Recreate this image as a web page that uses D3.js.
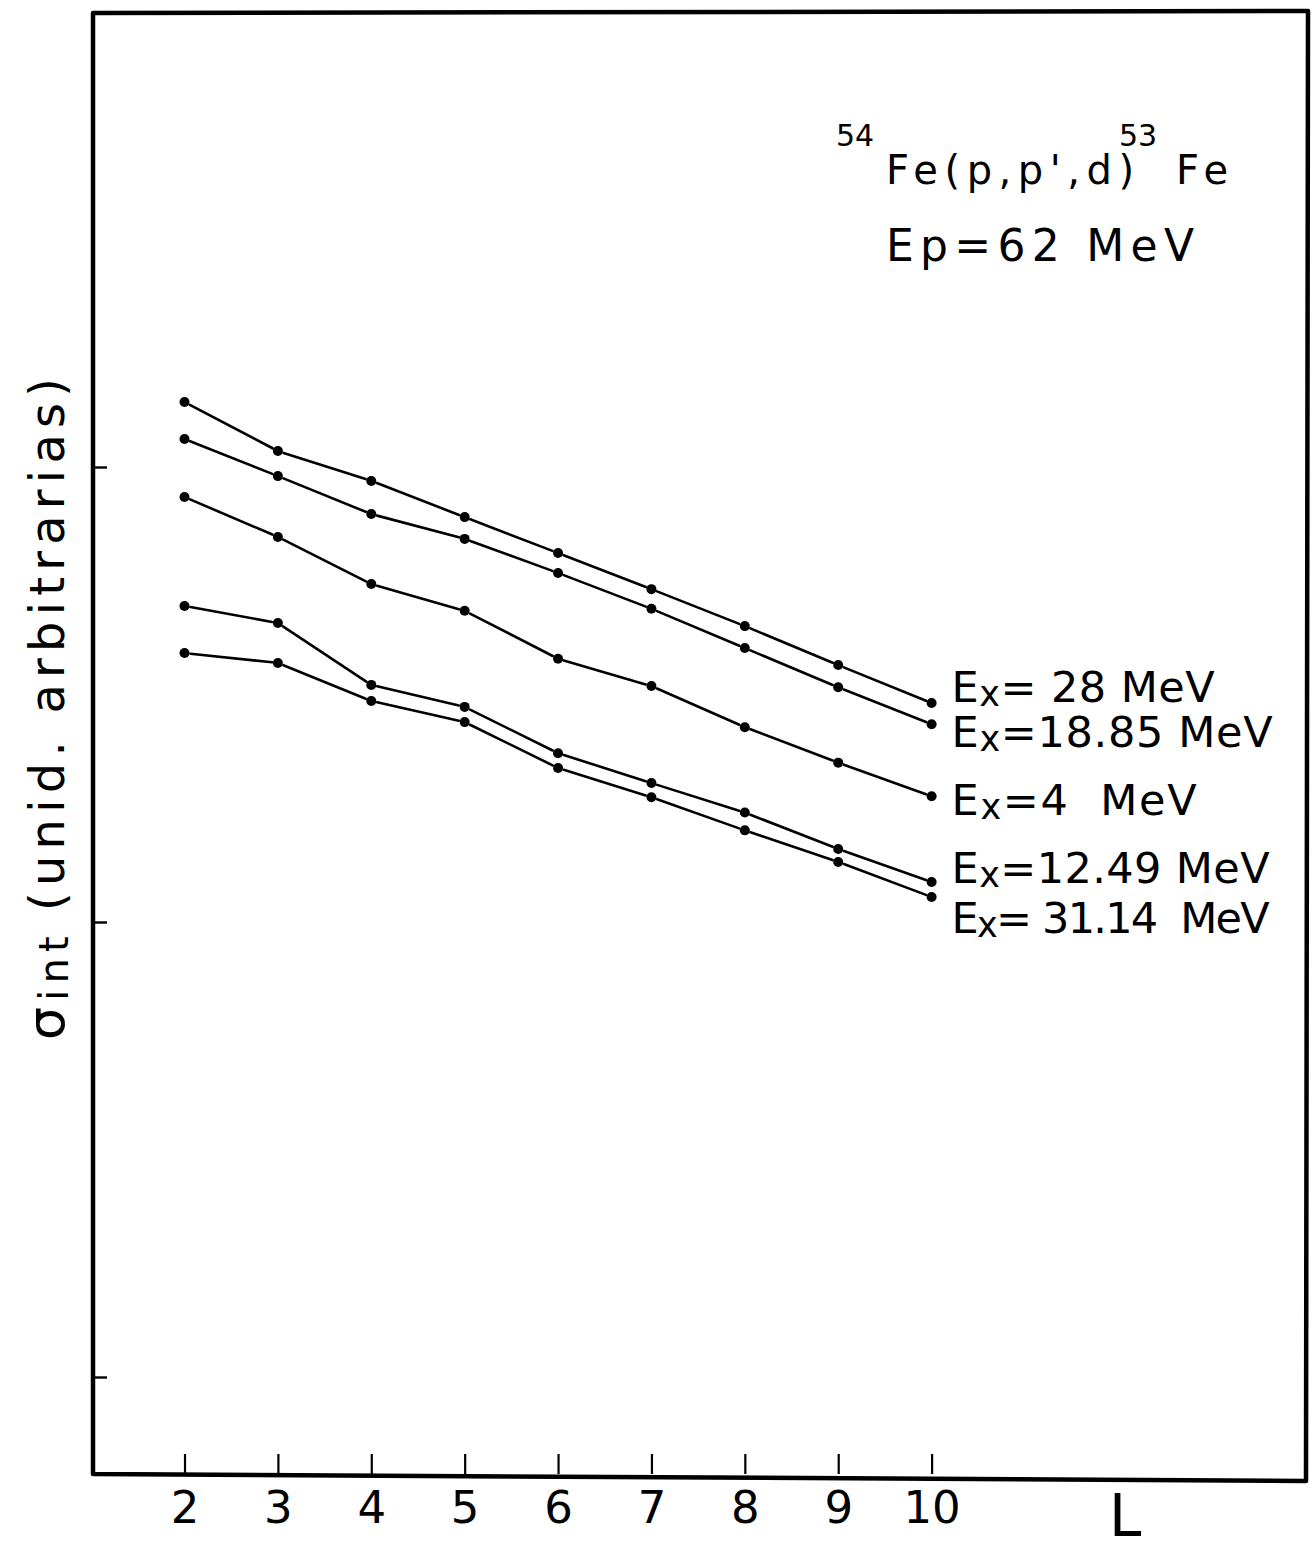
<!DOCTYPE html>
<html>
<head>
<meta charset="utf-8">
<script src="https://cdn.jsdelivr.net/npm/d3@7"></script>
<style>
  html, body { margin: 0; padding: 0; background: #fff; }
  svg { display: block; }
  text { font-family: "DejaVu Sans", sans-serif; fill: #000; white-space: pre; }
</style>
</head>
<body>
<svg id="chart" width="1313" height="1552"></svg>
<script>
// Multipole order L on the horizontal axis
const orders = [2, 3, 4, 5, 6, 7, 8, 9, 10];

// Integrated cross sections (arbitrary units, log axis), one list per excitation energy
const ex28    = [1.389, 1.084, 0.932, 0.776, 0.647, 0.539, 0.447, 0.367, 0.303];
const ex1885  = [1.152, 0.955, 0.788, 0.695, 0.585, 0.488, 0.400, 0.328, 0.272];
const ex4     = [0.859, 0.702, 0.553, 0.483, 0.379, 0.330, 0.268, 0.224, 0.189];
const ex1249  = [0.495, 0.454, 0.332, 0.297, 0.235, 0.202, 0.174, 0.1447, 0.1224];
const ex3114  = [0.390, 0.371, 0.306, 0.275, 0.218, 0.188, 0.159, 0.1355, 0.1135];

const seriesLabels = ["28 MeV", "18.85 MeV", "4  MeV", "12.49 MeV", "31.14  MeV"];
const seriesPrefix = ["= ", "=", "=", "=", "= "];
const seriesValues = [ex28, ex1885, ex4, ex1249, ex3114];

// Log-axis decade marks (unlabelled)
const yTickValues = [0.01, 0.1, 1];
const xTickValues = orders;

const titleReaction = { pre: "54", mid: "Fe(p,p',d)", post: "53", end: "Fe" };
const titleEnergy = "Ep=62 MeV";
const xTitle = "L";

// ---- layout ----
const svg = d3.select("#chart");
const W = 1313, H = 1552;
const mLeft = 93, mRight = 1307, mTop = 12, mBottom = 1474;

svg.append("rect").attr("width", W).attr("height", H).attr("fill", "#fff");

const x = d3.scaleLinear().domain([1.02, 14.02]).range([mLeft, mRight]);
const y = d3.scaleLog()
  .domain([Math.pow(10, -(mBottom - 467) / 455), Math.pow(10, (467 - mTop) / 455)])
  .range([mBottom, mTop]);

// frame
svg.append("path")
  .attr("d", `M${mLeft},${mTop + 1} L${mRight + 1},${mTop - 1} L${mRight - 1},${mBottom + 7} L${mLeft},${mBottom} Z`)
  .attr("fill", "none").attr("stroke", "#000").attr("stroke-width", 4.5)
  .attr("stroke-linejoin", "round");

// y decade ticks
const yAxis = svg.append("g").attr("transform", `translate(${mLeft},0)`)
  .call(d3.axisLeft(y).tickValues(yTickValues).tickSize(-14).tickFormat(""));
yAxis.select(".domain").remove();
yAxis.selectAll(".tick line").attr("stroke", "#000").attr("stroke-width", 2.4);

// x ticks and labels
const xAxis = svg.append("g").attr("transform", `translate(0,${mBottom})`)
  .call(d3.axisBottom(x).tickValues(xTickValues).tickSize(-20).tickPadding(17).tickFormat(d3.format("d")));
xAxis.select(".domain").remove();
xAxis.selectAll(".tick line").attr("stroke", "#000").attr("stroke-width", 2.2);
xAxis.selectAll(".tick text")
  .attr("font-family", "DejaVu Sans, sans-serif")
  .attr("font-size", 45).attr("fill", "#000");

// x title
svg.append("text").attr("x", 1109).attr("y", 1536)
  .attr("font-size", 58).text(xTitle);

// y title (rotated)
const yt = svg.append("text")
  .attr("transform", "translate(64,1040) rotate(-90)")
  .attr("font-size", 48)
  .attr("textLength", 662).attr("lengthAdjust", "spacing");
yt.append("tspan").attr("font-size", 52).text("σ");
yt.append("tspan").attr("font-size", 40).attr("dy", 4).text("int ");
yt.append("tspan").attr("dy", -4).text("(unid. arbitrarias)");

// series: line segments with small gaps at the points, then the dots
const gap = 6;
const plot = svg.append("g");
seriesValues.forEach((vals, si) => {
  const pts = orders.map((o, i) => [x(o), y(vals[i])]);
  const segs = d3.pairs(pts).map(([a, b]) => {
    const dx = b[0] - a[0], dy = b[1] - a[1];
    const len = Math.hypot(dx, dy);
    const ux = dx / len, uy = dy / len;
    return [a[0] + ux * gap, a[1] + uy * gap, b[0] - ux * gap, b[1] - uy * gap];
  });
  plot.append("g").selectAll("line").data(segs).join("line")
    .attr("x1", d => d[0]).attr("y1", d => d[1])
    .attr("x2", d => d[2]).attr("y2", d => d[3])
    .attr("stroke", "#000").attr("stroke-width", 2.6).attr("stroke-linecap", "round");
  plot.append("g").selectAll("circle").data(pts).join("circle")
    .attr("cx", d => d[0]).attr("cy", d => d[1]).attr("r", 5).attr("fill", "#000");
});

// series labels beside the L = 10 points
const labelDy = [-1, 23, 19, 1, 36];
const labelLen = [263, 321, 245, 318, 318];
seriesValues.forEach((vals, si) => {
  const t = svg.append("text")
    .attr("x", x(orders[orders.length - 1]) + 20)
    .attr("y", y(vals[vals.length - 1]) + labelDy[si])
    .attr("font-size", 43)
    .attr("textLength", labelLen[si]).attr("lengthAdjust", "spacing");
  t.append("tspan").text("E");
  t.append("tspan").attr("font-size", 35).attr("dy", 4).text("x");
  t.append("tspan").attr("dy", -4).text(seriesPrefix[si] + seriesLabels[si]);
});

// reaction title
const tr = svg.append("text").attr("x", 836).attr("y", 184).attr("font-size", 40);
tr.append("tspan").attr("font-size", 30).attr("dy", -38).text(titleReaction.pre);
tr.append("tspan").attr("dy", 38).attr("x", 886).attr("textLength", 248).attr("lengthAdjust", "spacing").text(titleReaction.mid);
tr.append("tspan").attr("font-size", 30).attr("dy", -38).attr("x", 1119).text(titleReaction.post);
tr.append("tspan").attr("dy", 38).attr("x", 1176).attr("textLength", 52).attr("lengthAdjust", "spacing").text(titleReaction.end);

svg.append("text").attr("x", 886).attr("y", 261).attr("font-size", 44)
  .attr("textLength", 308).attr("lengthAdjust", "spacing").text(titleEnergy);
</script>
</body>
</html>
